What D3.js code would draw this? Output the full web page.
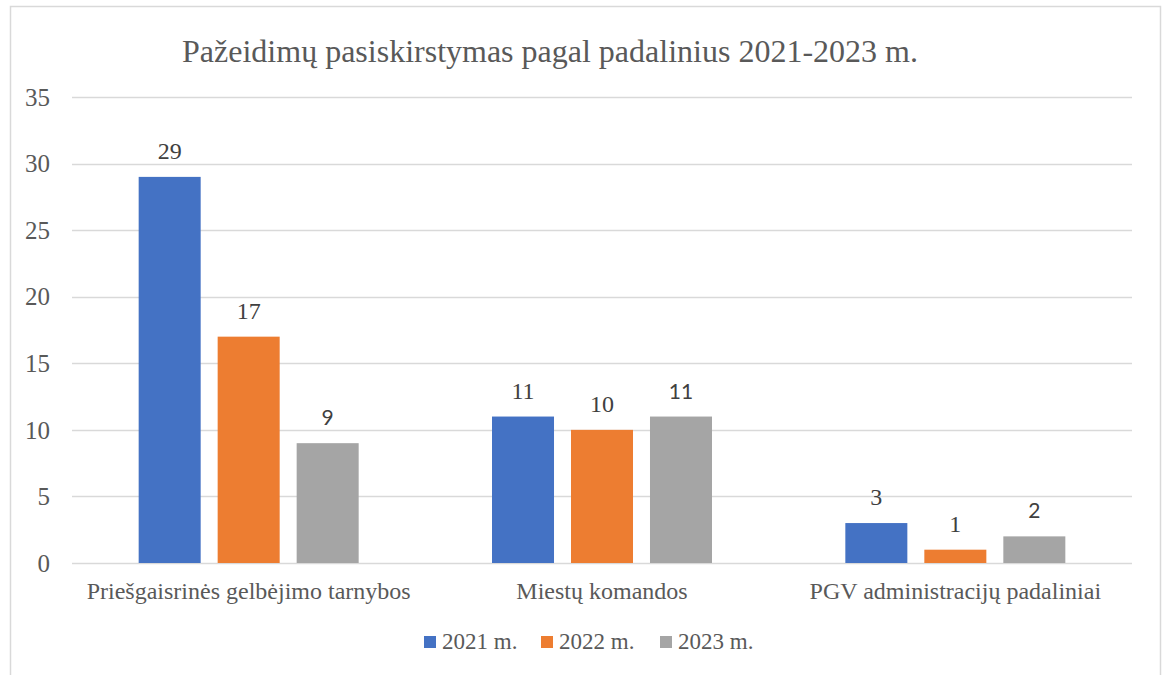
<!DOCTYPE html>
<html>
<head>
<meta charset="utf-8">
<script src="https://cdn.jsdelivr.net/npm/d3@7"></script>
<style>
  body { margin: 0; background: #fff; }
</style>
</head>
<body>
<svg id="chart" width="1165" height="675"></svg>
<script>
const MARGINTOP    = 97;
const MARGINRIGHT  = 33;
const MARGINBOTTOM = 112;
const MARGINLEFT   = 72;

var categories = ["Priešgaisrinės gelbėjimo tarnybos", "Miestų komandos", "PGV administracijų padaliniai"];
var series = ["2021 m.", "2022 m.", "2023 m."];
var values2021 = [29, 11, 3];
var values2022 = [17, 10, 1];
var values2023 = [9, 11, 2];
var colours = ["#4472C4", "#ED7D31", "#A5A5A5"];
var yTicks = [0, 5, 10, 15, 20, 25, 30, 35];

var allValues = [values2021, values2022, values2023];
var serif = "Liberation Serif, DejaVu Serif, serif";
var sans = "Lato, Open Sans, sans-serif";

document.addEventListener('DOMContentLoaded', function(){
    drawChart();
}, false);

function drawChart(){
    var vis = d3.select("#chart");
    var W = 1165, H = 675;

    // outer frame (bottom edge runs off the picture)
    vis.append("rect")
        .attr("x", 10.5).attr("y", 6.5)
        .attr("width", 1150).attr("height", 700)
        .attr("fill", "none")
        .attr("stroke", "#D9D9D9")
        .attr("stroke-width", 1.5);

    var xRange = d3.scaleBand()
        .domain(categories)
        .range([MARGINLEFT, W - MARGINRIGHT]);

    var inner = d3.scaleBand()
        .domain(series)
        .range([-110, 110])
        .paddingInner(0.215);

    var yRange = d3.scaleLinear()
        .domain([0, 35])
        .range([H - MARGINBOTTOM, MARGINTOP]);

    // gridlines
    vis.append("g").selectAll("line")
        .data(yTicks)
        .enter().append("line")
        .attr("x1", MARGINLEFT)
        .attr("x2", W - MARGINRIGHT)
        .attr("y1", d => Math.round(yRange(d)) + 0.5)
        .attr("y2", d => Math.round(yRange(d)) + 0.5)
        .attr("stroke", "#D9D9D9")
        .attr("stroke-width", 1.5);

    // y axis labels
    var yAxis = d3.axisLeft(yRange).tickValues(yTicks).tickSize(0).tickPadding(0);
    var gy = vis.append("g")
        .attr("transform", "translate(50,0)")
        .call(yAxis)
        .attr("font-family", null)
        .attr("font-size", null);
    gy.select(".domain").remove();
    gy.selectAll("text")
        .style("font-family", serif)
        .style("font-size", "25px")
        .attr("dy", "0.33em")
        .style("fill", "#595959");

    // x axis labels
    var xAxis = d3.axisBottom(xRange).tickSize(0).tickPadding(0);
    var gx = vis.append("g")
        .attr("transform", "translate(0," + (H - MARGINBOTTOM) + ")")
        .call(xAxis)
        .attr("font-family", null)
        .attr("font-size", null);
    gx.select(".domain").remove();
    gx.selectAll("text")
        .style("font-family", serif)
        .style("font-size", "24px")
        .attr("dy", "0")
        .attr("y", 36)
        .style("fill", "#595959");

    // bars + value labels
    series.forEach(function(s, si){
        var g = vis.append("g");
        g.selectAll("rect")
            .data(allValues[si])
            .enter().append("rect")
            .attr("x", (d, i) => xRange(categories[i]) + xRange.bandwidth() / 2 + inner(s))
            .attr("y", d => yRange(d))
            .attr("width", inner.bandwidth())
            .attr("height", d => yRange(0) - yRange(d))
            .attr("fill", colours[si]);

        g.selectAll("text")
            .data(allValues[si])
            .enter().append("text")
            .attr("x", (d, i) => xRange(categories[i]) + xRange.bandwidth() / 2 + inner(s) + inner.bandwidth() / 2)
            .attr("y", d => yRange(d) - 18)
            .attr("text-anchor", "middle")
            .style("font-family", si == 2 ? sans : serif)
            .style("font-size", si == 2 ? "21px" : "24px")
            .style("fill", "#404040")
            .text(d => d);
    });

    // title
    vis.append("text")
        .attr("x", 550)
        .attr("y", 62)
        .attr("text-anchor", "middle")
        .style("font-family", serif)
        .style("font-size", "32px")
        .style("fill", "#595959")
        .text("Pažeidimų pasiskirstymas pagal padalinius 2021-2023 m.");

    // legend
    var legendX = [424, 541, 660];
    var legend = vis.append("g");
    series.forEach(function(s, si){
        legend.append("rect")
            .attr("x", legendX[si])
            .attr("y", 636)
            .attr("width", 12)
            .attr("height", 12)
            .attr("fill", colours[si]);
        legend.append("text")
            .attr("x", legendX[si] + 18)
            .attr("y", 649)
            .style("font-family", serif)
            .style("font-size", "23px")
            .style("fill", "#595959")
            .text(s);
    });
}
</script>
</body>
</html>
